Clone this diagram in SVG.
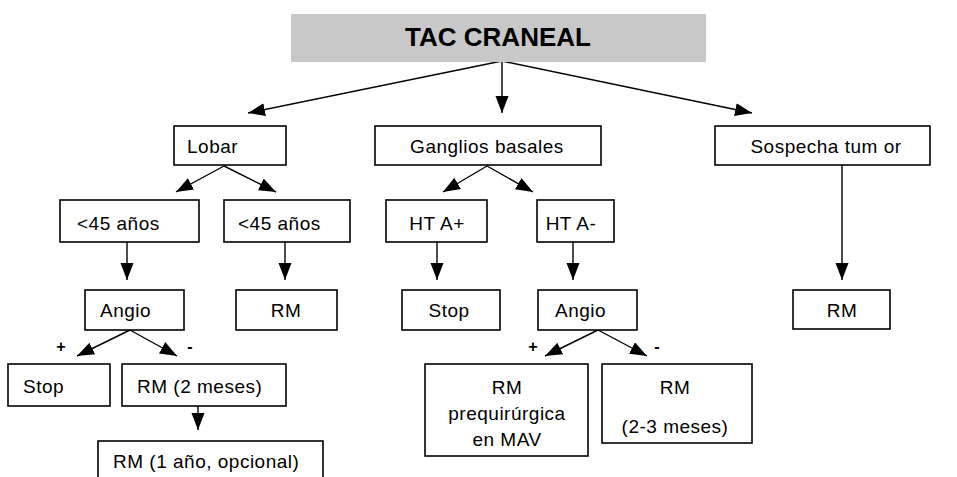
<svg xmlns="http://www.w3.org/2000/svg" width="957" height="477" viewBox="0 0 957 477">
<style>
.box{fill:#fff;stroke:#000;stroke-width:1.6}
.t{font-family:"Liberation Sans",Arial,sans-serif;font-size:19px;fill:#000;letter-spacing:0.5px}
.c{text-anchor:middle}
.title{font-family:"Liberation Sans",Arial,sans-serif;font-size:26px;font-weight:bold;fill:#000;text-anchor:middle}
.ln{stroke:#000;stroke-width:1.4;fill:none;marker-end:url(#ah)}
.sign{font-family:"Liberation Sans",Arial,sans-serif;font-size:16px;font-weight:bold;fill:#000;text-anchor:middle}
</style>
<defs>
<marker id="ah" markerUnits="userSpaceOnUse" markerWidth="18" markerHeight="14" refX="17" refY="6.5" orient="auto">
<path d="M0,0 L17,6.5 L0,13 z" fill="#000"/>
</marker>
</defs>
<rect width="957" height="477" fill="#fff"/>
<g id="connectors">
<line class="ln" x1="502" y1="61" x2="248" y2="113"/>
<line class="ln" x1="502" y1="61" x2="502" y2="113"/>
<line class="ln" x1="502" y1="61" x2="752" y2="113"/>
<line class="ln" x1="224" y1="166" x2="176" y2="192"/>
<line class="ln" x1="224" y1="166" x2="276" y2="192"/>
<line class="ln" x1="487" y1="166" x2="443" y2="192"/>
<line class="ln" x1="487" y1="166" x2="533" y2="192"/>
<line class="ln" x1="127" y1="242" x2="127" y2="280"/>
<line class="ln" x1="285" y1="242" x2="285" y2="280"/>
<line class="ln" x1="437" y1="242" x2="437" y2="280"/>
<line class="ln" x1="573" y1="242" x2="573" y2="280"/>
<line class="ln" x1="842" y1="165" x2="842" y2="280"/>
<line class="ln" x1="130" y1="330" x2="77" y2="356"/>
<line class="ln" x1="130" y1="330" x2="177" y2="356"/>
<line class="ln" x1="598" y1="330" x2="545" y2="356"/>
<line class="ln" x1="598" y1="330" x2="647" y2="356"/>
<line class="ln" x1="198" y1="406" x2="198" y2="430"/>
<text class="sign" x="61" y="352">+</text>
<text class="sign" x="190" y="352">-</text>
<text class="sign" x="533" y="352">+</text>
<text class="sign" x="657" y="352">-</text>
</g>
<g id="tac">
<rect x="291" y="14" width="415" height="48" fill="#c8c8c8"/>
<text class="title" x="498" y="46">TAC CRANEAL</text>
</g>
<g id="lobar">
<rect class="box" x="174" y="126" width="112" height="39"/>
<text class="t" x="187" y="153">Lobar</text>
</g>
<g id="ganglios">
<rect class="box" x="375" y="126" width="226" height="39"/>
<text class="t c" x="487" y="153">Ganglios basales</text>
</g>
<g id="sospecha">
<rect class="box" x="715" y="126" width="215" height="39"/>
<text class="t c" x="826" y="153">Sospecha tum or</text>
</g>
<g id="menor45a">
<rect class="box" x="60" y="200" width="139" height="42"/>
<text class="t" x="77" y="230">&lt;45 años</text>
</g>
<g id="menor45b">
<rect class="box" x="224" y="200" width="126" height="42"/>
<text class="t" x="238" y="230">&lt;45 años</text>
</g>
<g id="htaplus">
<rect class="box" x="386" y="200" width="101" height="42"/>
<text class="t c" x="437" y="230">HT A+</text>
</g>
<g id="htaminus">
<rect class="box" x="537" y="200" width="77" height="42"/>
<text class="t c" x="571" y="230">HT A-</text>
</g>
<g id="angio1">
<rect class="box" x="85" y="290" width="99" height="40"/>
<text class="t" x="100" y="317">Angio</text>
</g>
<g id="rm1">
<rect class="box" x="236" y="290" width="101" height="40"/>
<text class="t c" x="286" y="317">RM</text>
</g>
<g id="stop2">
<rect class="box" x="402" y="290" width="98" height="40"/>
<text class="t c" x="449" y="317">Stop</text>
</g>
<g id="angio2">
<rect class="box" x="538" y="290" width="99" height="40"/>
<text class="t" x="555" y="317">Angio</text>
</g>
<g id="rm3">
<rect class="box" x="793" y="290" width="97" height="39"/>
<text class="t c" x="842" y="317">RM</text>
</g>
<g id="stop1">
<rect class="box" x="8" y="364" width="102" height="42"/>
<text class="t" x="23" y="393">Stop</text>
</g>
<g id="rm2meses">
<rect class="box" x="122" y="364" width="164" height="42"/>
<text class="t" x="137" y="393">RM (2 meses)</text>
</g>
<g id="rm1anio">
<rect class="box" x="98" y="441" width="225" height="45"/>
<text class="t" x="113" y="468">RM (1 año, opcional)</text>
</g>
<g id="rmprequirurgica">
<rect class="box" x="425" y="364" width="163" height="92"/>
<text class="t c" x="507" y="394">RM</text>
<text class="t c" x="507" y="420">prequirúrgica</text>
<text class="t c" x="507" y="446">en MAV</text>
</g>
<g id="rm23">
<rect class="box" x="602" y="364" width="150" height="79"/>
<text class="t c" x="675" y="394">RM</text>
<text class="t c" x="675" y="433">(2-3 meses)</text>
</g>
</svg>
